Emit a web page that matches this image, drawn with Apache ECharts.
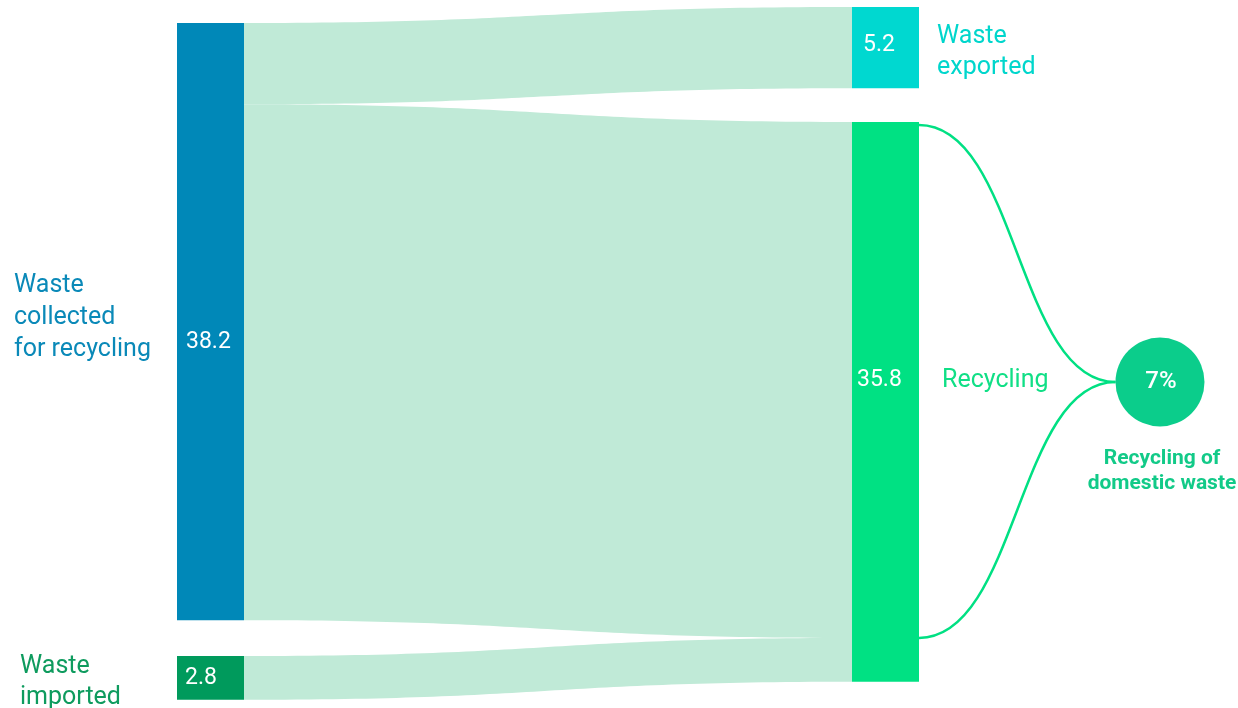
<!DOCTYPE html>
<html>
<head>
<meta charset="utf-8">
<script src="https://cdn.jsdelivr.net/npm/echarts@6/dist/echarts.min.js"></script>
<style>
  html, body { margin: 0; padding: 0; background: #ffffff; }
  #chart { width: 1238px; height: 708px; }
</style>
</head>
<body>
<div id="chart"></div>
<script>
// ---- Data ----------------------------------------------------------------
const nodeNames = ['Waste collected for recycling', 'Waste imported', 'Waste exported', 'Recycling'];
const nodeLabels = ['Waste\ncollected\nfor recycling', 'Waste\nimported', 'Waste\nexported', 'Recycling'];
const linkSources = ['Waste collected for recycling', 'Waste collected for recycling', 'Waste imported'];
const linkTargets = ['Waste exported', 'Recycling', 'Recycling'];
const linkValues = [5.2, 33.0, 2.8];
const domesticShare = '7%';
const domesticCaption = 'Recycling of\ndomestic waste';

// ---- Styling -------------------------------------------------------------
const FONT = 'Roboto, "Noto Sans", sans-serif';
const nodeColors = ['#0088B8', '#009A5C', '#00D8D0', '#00E183'];
const nameColors = ['#0A89B8', '#0E9B5E', '#00D6CC', '#10DF86'];
const flowColor = '#C0EAD7';
const domesticColor = '#0BCD8B';

const box = { left: 177, top: 7, width: 742, height: 677 };
const nodeWidth = 67;
const nodeGap = 36;
// top edge of every node, in pixels
const nodeTopPx = [23, 656, 7, 122];
// value label: x offset inside the node, vertical nudge
const valueOffsetX = [9, 8, 11, 5];
const valueOffsetY = [21, 0, -2, -22];
// name label placement
const nameLabelStyle = [
  { position: [-163, '50%'], align: 'left', offset: [0, -4], lineHeight: 32 },
  { position: [-157, '50%'], align: 'left', offset: [0, 4], lineHeight: 31 },
  { position: 'right', distance: 18, offset: [0, 5], lineHeight: 31 },
  { position: 'right', distance: 23, offset: [0, -21], lineHeight: 31 }
];

// ---- Derived values ------------------------------------------------------
function flowSum(ends, name) {
  let s = 0;
  ends.forEach((n, i) => { if (n === name) s += linkValues[i]; });
  return s;
}
const nodeValues = nodeNames.map(n => Math.max(flowSum(linkSources, n), flowSum(linkTargets, n)));

// columns: sources with no incoming flow on the left, the rest on the right
const columns = [[], []];
nodeNames.forEach((n, i) => {
  columns[linkTargets.indexOf(n) === -1 ? 0 : 1].push(i);
});
// same vertical scale the sankey layout uses
const ky = Math.min(...columns.map(col =>
  (box.height - (col.length - 1) * nodeGap) / col.reduce((s, i) => s + nodeValues[i], 0)));

const localY = nodeTopPx.map(y => (y - box.top) / box.height);

const links = linkValues.map((v, i) => ({ source: linkSources[i], target: linkTargets[i], value: v }));

// Curves from the domestic share of the Recycling node to the share bubble
const recIdx = nodeNames.indexOf('Recycling');
const recTop = nodeTopPx[recIdx];
const recRight = box.left + box.width;
const domesticFlow = linkValues[1];
const curveTopY = recTop + 3;
const curveBottomY = recTop + domesticFlow * ky;
const bubble = { cx: 1160, cy: 382, r: 44.5 };
const endX = bubble.cx - bubble.r;
const midX = (recRight + endX) / 2;

function connector(y0) {
  return {
    type: 'bezierCurve',
    shape: { x1: recRight, y1: y0, cpx1: midX, cpy1: y0, cpx2: midX, cpy2: bubble.cy, x2: endX, y2: bubble.cy },
    style: { stroke: '#00E083', lineWidth: 2.5, fill: null },
    silent: true
  };
}

// ---- Chart ---------------------------------------------------------------
const chart = echarts.init(document.getElementById('chart'), null, { renderer: 'canvas' });

const common = {
  type: 'sankey',
  left: box.left,
  top: box.top,
  width: box.width,
  height: box.height,
  nodeWidth: nodeWidth,
  nodeGap: nodeGap,
  layoutIterations: 0,
  draggable: false,
  emphasis: { disabled: true },
  links: links
};

chart.setOption({
  backgroundColor: '#ffffff',
  animation: false,
  series: [
    Object.assign({}, common, {
      name: 'flows',
      lineStyle: { color: flowColor, opacity: 1, curveness: 0.5 },
      label: {
        show: true,
        color: '#ffffff',
        fontFamily: FONT,
        fontSize: 23,
        align: 'left',
        verticalAlign: 'middle',
        formatter: p => Number(p.value).toFixed(1)
      },
      data: nodeNames.map((n, i) => ({
        name: n,
        value: nodeValues[i],
        localY: localY[i],
        itemStyle: { color: nodeColors[i], borderWidth: 0 },
        label: { position: [valueOffsetX[i], '50%'], offset: [0, valueOffsetY[i]] }
      }))
    }),
    Object.assign({}, common, {
      name: 'names',
      silent: true,
      z: 3,
      lineStyle: { color: 'rgba(0,0,0,0)', opacity: 0 },
      label: {
        show: true,
        fontFamily: FONT,
        fontSize: 25,
        verticalAlign: 'middle'
      },
      data: nodeNames.map((n, i) => ({
        name: n,
        value: nodeValues[i],
        localY: localY[i],
        itemStyle: { color: 'rgba(0,0,0,0)', borderWidth: 0 },
        label: Object.assign({ formatter: nodeLabels[i], color: nameColors[i] }, nameLabelStyle[i])
      }))
    })
  ],
  graphic: [
    connector(curveTopY),
    connector(curveBottomY),
    {
      type: 'circle',
      shape: { cx: bubble.cx, cy: bubble.cy, r: bubble.r },
      style: { fill: domesticColor },
      silent: true,
      z: 10
    },
    {
      type: 'text',
      x: bubble.cx + 1,
      y: bubble.cy,
      z: 11,
      style: {
        text: domesticShare,
        fill: '#ffffff',
        font: '500 24px ' + FONT,
        textAlign: 'center',
        textVerticalAlign: 'middle'
      }
    },
    {
      type: 'text',
      x: 1162,
      y: 471,
      z: 11,
      style: {
        text: domesticCaption,
        fill: '#12CA88',
        font: 'bold 21px ' + FONT,
        lineHeight: 25,
        textAlign: 'center',
        textVerticalAlign: 'middle'
      }
    }
  ]
});
</script>
</body>
</html>
